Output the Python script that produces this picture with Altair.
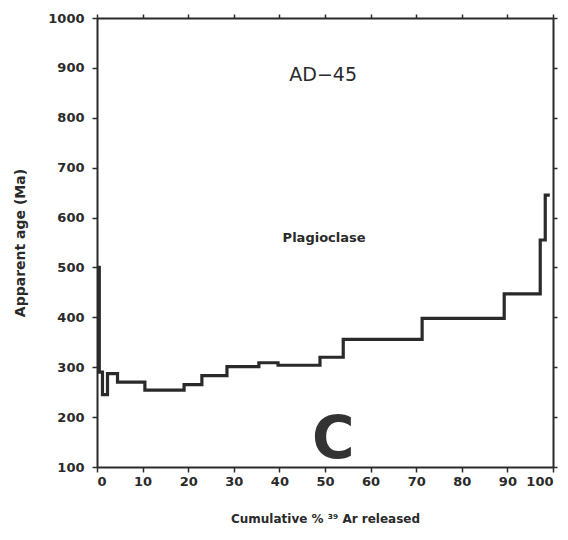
import altair as alt
import pandas as pd

# Step spectrum: cumulative % 39Ar at start of each step and apparent age (Ma)
cum_pct = [0, 0.5, 1.2, 2.3, 4.5, 10.5, 19.1, 23.0, 28.5, 35.5, 39.7, 48.9,
           54.0, 71.3, 89.3, 97.2, 98.3, 99.3]
age_ma = [500, 290, 245, 287, 270, 254, 265, 283, 301, 309, 304, 320,
          356, 398, 447, 555, 645, 645]

x_ticks = [0, 10, 20, 30, 40, 50, 60, 70, 80, 90, 100]
y_ticks = [100, 200, 300, 400, 500, 600, 700, 800, 900, 1000]

labels_text = ["AD\u221245", "Plagioclase", "C"]
labels_x = [49.6, 49.8, 51.8]
labels_y = [886, 559, 152]

df = pd.DataFrame({"pct": cum_pct, "age": age_ma})

FONT = "DejaVu Sans"
INK = "#2a2a2a"

xscale = alt.Scale(domain=[0, 100], nice=False, zero=False)
yscale = alt.Scale(domain=[100, 1000], nice=False, zero=False)

line = alt.Chart(df).mark_line(
    interpolate="step-after", color=INK, strokeWidth=3.2
).encode(
    x=alt.X("pct:Q", scale=xscale, axis=alt.Axis(
        orient="bottom", values=x_ticks, format="d",
        title="Cumulative % \u00b3\u2079 Ar released",
        grid=False, tickSize=5, labelPadding=3, titleY=46,
        labelFont=FONT, labelFontSize=13, labelFontWeight="bold", labelColor=INK,
        titleFont=FONT, titleFontSize=12, titleFontWeight="bold", titleColor=INK,
        domainColor=INK, domainWidth=2, tickColor=INK, tickWidth=1.5)),
    y=alt.Y("age:Q", scale=yscale, axis=alt.Axis(
        orient="left", values=y_ticks, format="d", title="Apparent age (Ma)",
        grid=False, tickSize=5, labelPadding=8, titleX=-70,
        labelFont=FONT, labelFontSize=13, labelFontWeight="bold", labelColor=INK,
        titleFont=FONT, titleFontSize=14, titleFontWeight="bold", titleColor=INK,
        domainColor=INK, domainWidth=2, tickColor=INK, tickWidth=1.5)),
)

mirror = alt.Chart(df).mark_line(opacity=0).encode(
    x=alt.X("pct:Q", scale=xscale, axis=alt.Axis(
        orient="top", values=x_ticks, labels=False, title=None, grid=False,
        tickSize=4, domainColor=INK, domainWidth=2, tickColor=INK, tickWidth=1.5)),
    y=alt.Y("age:Q", scale=yscale, axis=alt.Axis(
        orient="right", values=y_ticks, labels=False, title=None, grid=False,
        tickSize=4, domainColor=INK, domainWidth=2, tickColor=INK, tickWidth=1.5)),
)

ann_df = pd.DataFrame({"t": labels_text, "x": labels_x, "y": labels_y})

def ann(idx, size, weight, color):
    return alt.Chart(ann_df.iloc[[idx]]).mark_text(
        font=FONT, fontSize=size, fontWeight=weight, color=color).encode(
        x=alt.X("x:Q", scale=xscale, axis=None),
        y=alt.Y("y:Q", scale=yscale, axis=None),
        text="t:N")

ann_ad = ann(0, 19, "normal", INK)
ann_pl = ann(1, 13, "bold", INK)
ann_c = ann(2, 58, "bold", "#333333")

chart = alt.layer(line, mirror, ann_ad, ann_pl, ann_c).resolve_axis(
    x="independent", y="independent"
).properties(
    width=456, height=449,
    padding={"left": 89, "top": 10, "right": 7, "bottom": 65},
    autosize=alt.AutoSizeParams(type="none"),
).configure_view(stroke=None).configure(background="white")

chart.save("out.html", embed_options={"renderer": "svg", "actions": False})
